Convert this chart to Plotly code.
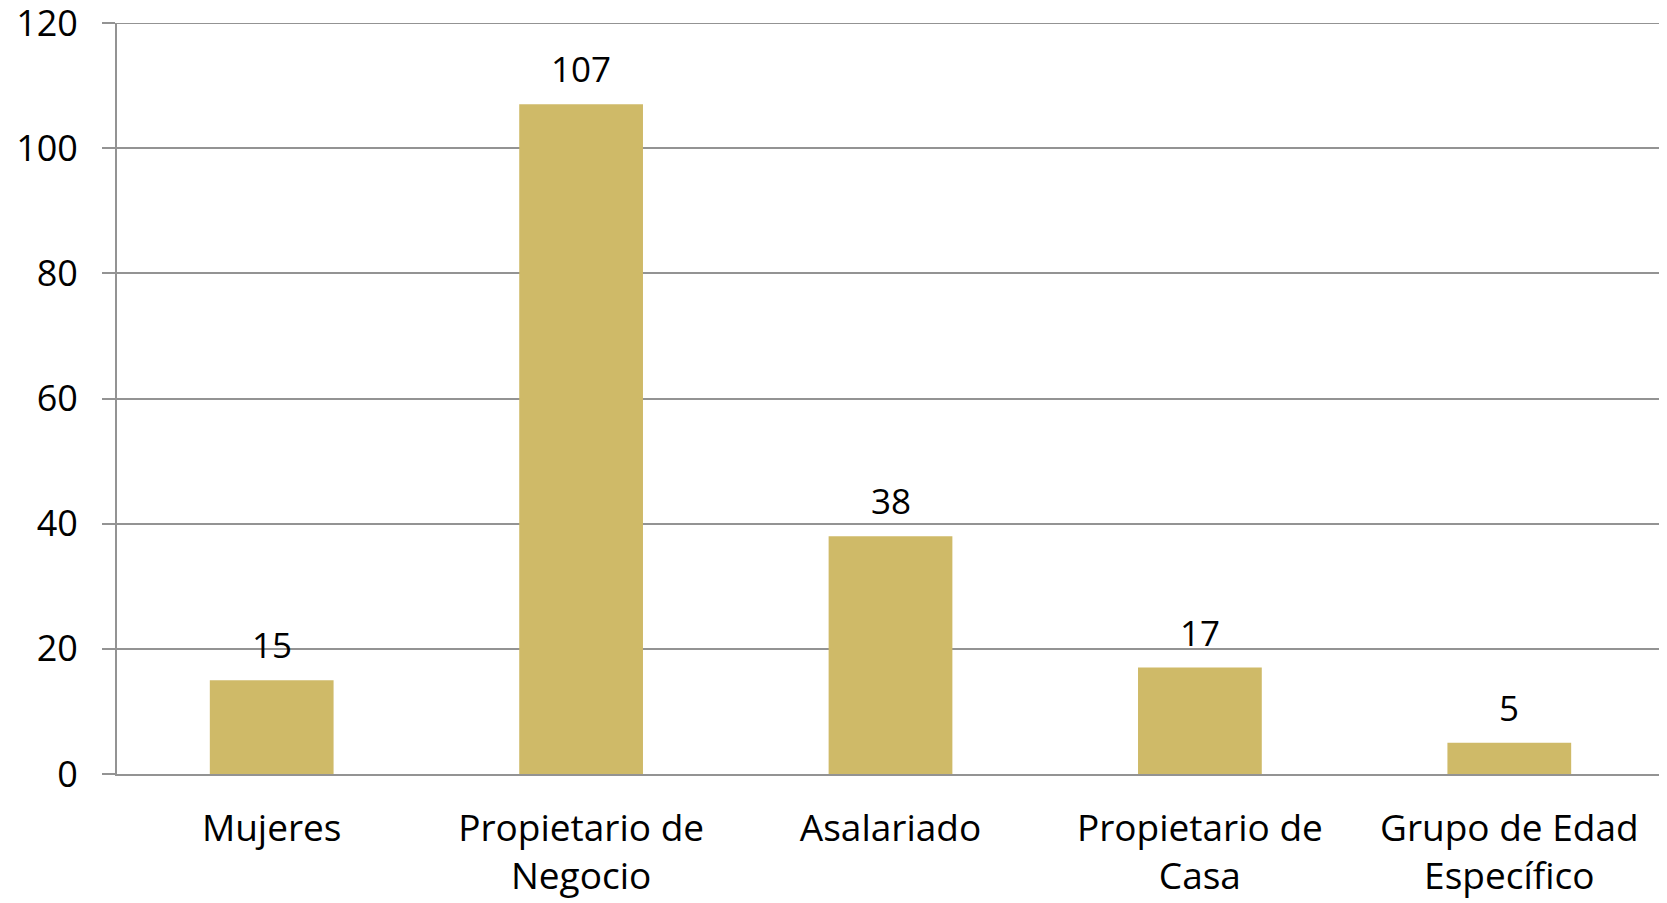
import plotly.graph_objects as go

categories = ["Mujeres", "Propietario de<br>Negocio", "Asalariado", "Propietario de<br>Casa", "Grupo de Edad<br>Específico"]
values = [15, 107, 38, 17, 5]
y_ticks = [0, 20, 40, 60, 80, 100, 120]

bar_color = "#CFBA68"
grid_color = "#939393"
font_family = "Open Sans, sans-serif"
fsize = 36

fig = go.Figure(go.Bar(
    x=categories, y=values, marker=dict(color=bar_color, line=dict(width=0)),
    width=0.4, hoverinfo="skip",
))

for c, v in zip(categories, values):
    fig.add_annotation(x=c, y=v, text=str(v), showarrow=False, yanchor="bottom",
                       yshift=10, font=dict(size=35, color="black", family=font_family))

# top gridline at the range edge
fig.add_shape(type="line", xref="paper", x0=-13/1547, x1=1, yref="y", y0=y_ticks[-1], y1=y_ticks[-1],
              line=dict(color=grid_color, width=1.8), layer="below")

fig.update_layout(
    width=1659, height=895,
    margin=dict(l=109, r=3, t=15, b=129, autoexpand=False),
    plot_bgcolor="white", paper_bgcolor="white",
    font=dict(family=font_family, size=fsize, color="black"),
    showlegend=False,
    xaxis=dict(showline=True, linecolor=grid_color, linewidth=1.8, showgrid=False,
               ticks="", tickfont=dict(size=37), fixedrange=True, automargin=False,
               ticklabelstandoff=21, ticklabeloverflow="allow"),
    yaxis=dict(range=[0, 120], tickvals=y_ticks, showgrid=True, gridcolor=grid_color,
               gridwidth=1.8, showline=True, linecolor=grid_color, linewidth=1.8,
               ticks="outside", ticklen=13, tickcolor=grid_color, tickwidth=1.8,
               zeroline=False, tickfont=dict(size=fsize), fixedrange=True, automargin=False,
               ticklabelstandoff=17, ticklabeloverflow="allow"),
)

fig.write_html("out.html")
